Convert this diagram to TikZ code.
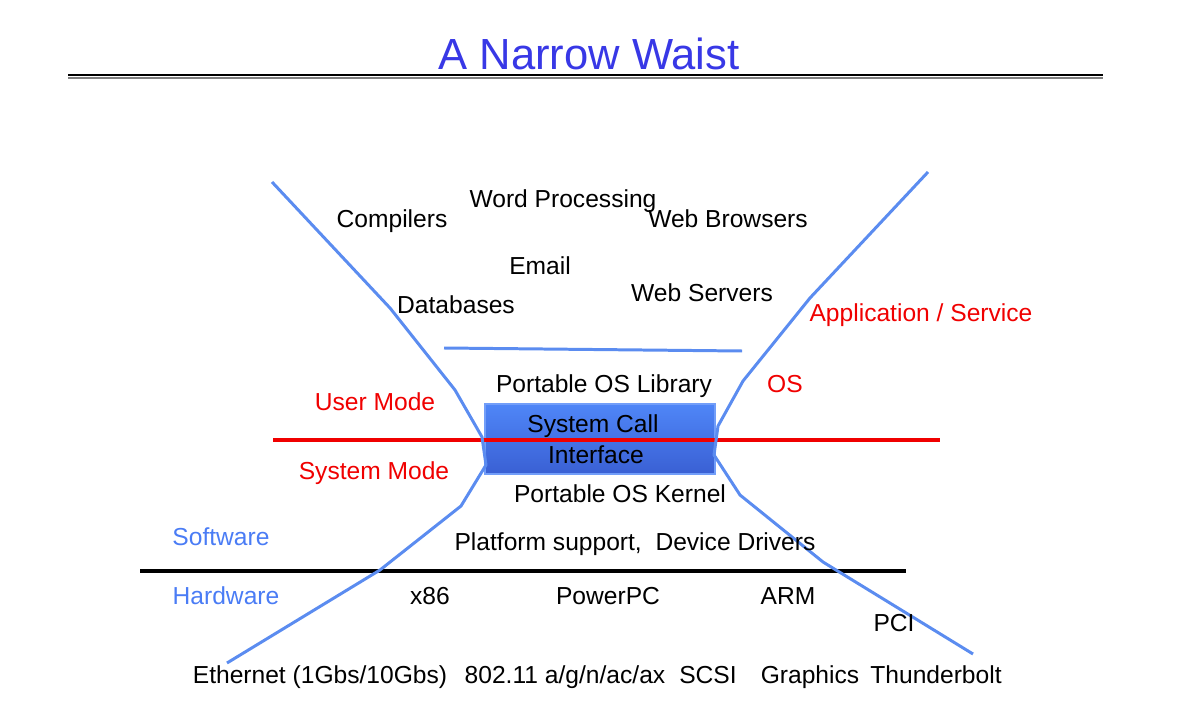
\documentclass[tikz,border=0pt]{standalone}
\usepackage{xcolor}
\usepackage{fontspec}
\setmainfont{Liberation Sans}
\usepackage{tikz}

\definecolor{waistblue}{HTML}{5B8CF0}
\definecolor{titleblue}{HTML}{3838E6}
\definecolor{swblue}{HTML}{4A7CF5}
\definecolor{modered}{HTML}{F00000}
\definecolor{boxtop}{HTML}{4F86F7}
\definecolor{boxbot}{HTML}{3A60D4}

\tikzset{
  lbl/.style={font=\fontsize{14}{17.6}\selectfont, text height=10pt, text depth=0pt, inner sep=0pt},
  redlbl/.style={lbl, text=modered},
  bluelbl/.style={lbl, text=swblue},
  waist/.style={draw=waistblue, line width=1.7pt, line join=round},
  callbox/.style={draw=boxtop!80!white, line width=0.8pt, top color=boxtop, bottom color=boxbot,
    inner sep=0pt, minimum width=4.6cm, minimum height=1.4cm}
}

\begin{document}
\begin{tikzpicture}[x=0.02cm,y=-0.02cm]
\useasboundingbox (0,0) rectangle (1182,709);
% title
\node[font=\fontsize{24.8}{30}\selectfont, text=titleblue, text height=18pt, text depth=0pt, inner sep=0pt] (title) at (589,54) {A Narrow Waist};
\draw[line width=1.2pt] (68,75) -- (1103,75);
\draw[gray, line width=1pt] (68,78) -- (1103,78);
% system call box
\node[callbox] (sci) at (600,439) {};
\node[lbl] (call) at (593,424) {System Call};
\node[lbl] (iface) at (596,455) {Interface};
% mode and hw/sw lines
\draw[modered, line width=1.8pt] (273,440) -- (940,440);
\draw[line width=1.8pt] (140,571) -- (906,571);
% the waist
\draw[waist] (272,182) -- (390,308) -- (455,390) -- (482,437) -- (486,465) -- (461,506) -- (380,570) -- (227,663);
\draw[waist] (928,172) -- (810,298) -- (743,381) -- (718,426) -- (714,455) -- (740,495) -- (823,562) -- (973,654);
\draw[waist] (444,348) -- (742,351);
% applications
\node[lbl] (comp) at (392,219) {Compilers};
\node[lbl] (word) at (563,199) {Word Processing};
\node[lbl] (browse) at (728,219) {Web Browsers};
\node[lbl] (email) at (540,266) {Email};
\node[lbl] (db) at (456,305) {Databases};
\node[lbl] (serve) at (702,293) {Web Servers};
\node[redlbl] (app) at (921,313) {Application / Service};
% os
\node[lbl] (lib) at (604,384) {Portable OS Library};
\node[redlbl] (os) at (785,384) {OS};
\node[redlbl] (user) at (375,402) {User Mode};
\node[redlbl] (sys) at (374,471) {System Mode};
\node[lbl] (kern) at (620,494) {Portable OS Kernel};
\node[bluelbl] (sw) at (221,537) {Software};
\node[lbl] (plat) at (635,542) {Platform support,\ \ Device Drivers};
% hardware
\node[bluelbl] (hw) at (226,596) {Hardware};
\node[lbl] (x86) at (430,596) {x86};
\node[lbl] (ppc) at (608,596) {PowerPC};
\node[lbl] (arm) at (788,596) {ARM};
\node[lbl] (pci) at (894,623) {PCI};
\node[lbl] (eth) at (320,675) {Ethernet (1Gbs/10Gbs)};
\node[lbl] (wifi) at (565,675) {802.11 a/g/n/ac/ax};
\node[lbl] (scsi) at (708,675) {SCSI};
\node[lbl] (gfx) at (810,675) {Graphics};
\node[lbl] (tb) at (936,675) {Thunderbolt};
\end{tikzpicture}
\end{document}
